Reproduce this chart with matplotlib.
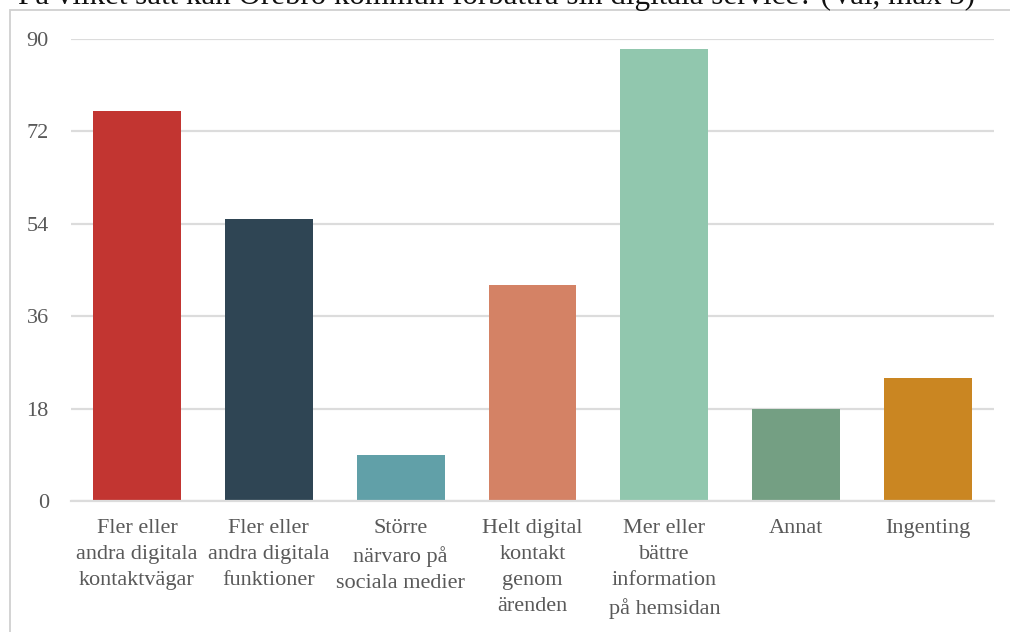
import matplotlib
matplotlib.use("Agg")
import matplotlib.pyplot as plt
from matplotlib.patches import Rectangle

title = "På vilket sätt kan Örebro kommun förbättra sin digitala service? (Val, max 3)"
categories = [
    "Fler eller\nandra digitala\nkontaktvägar",
    "Fler eller\nandra digitala\nfunktioner",
    "Större\nnärvaro på\nsociala medier",
    "Helt digital\nkontakt\ngenom\närenden",
    "Mer eller\nbättre\ninformation\npå hemsidan",
    "Annat",
    "Ingenting",
]
values = [76, 55, 9, 42, 88, 18, 24]
colors = ["#c23531", "#2f4554", "#61a0a8", "#d48265", "#91c7ae", "#749f83", "#ca8622"]
yticks = [0, 18, 36, 54, 72, 90]

W, H = 1010, 632
plt.rcParams["font.family"] = ["Liberation Serif", "DejaVu Serif"]
fig = plt.figure(figsize=(W / 100, H / 100), dpi=100)

# outer frame (left and top edges visible)
fig.patches.append(Rectangle((10 / W, -0.1), 1.2, 1 - 10 / H + 0.1, transform=fig.transFigure,
                             fill=False, edgecolor="#d0d0d0", linewidth=1.3))

fig.text(497 / W, 1 - 4 / H, title, ha="center", va="baseline", fontsize=22.3, color="#111111")

ax = fig.add_axes([71 / W, 1 - 501 / H, (994 - 71) / W, (501 - 39) / H])
x = range(len(categories))
ax.bar(x, values, width=0.667, color=colors, zorder=3)
ax.set_xlim(-0.5, len(categories) - 0.5)
ax.set_ylim(0, 90)
ax.set_yticks(yticks)
ax.set_xticks(list(x))
ax.set_xticklabels(categories, fontsize=16, color="#595959", linespacing=1.5)
ax.tick_params(axis="y", labelsize=16, labelcolor="#595959", length=0, pad=16)
ax.tick_params(axis="x", length=0, pad=13)
ax.grid(axis="y", color="#dcdcdc", linewidth=1.6, zorder=0)
for s in ["top", "right", "left"]:
    ax.spines[s].set_visible(False)
ax.spines["bottom"].set_color("#dcdcdc")
ax.spines["bottom"].set_linewidth(1.6)
ax.spines["bottom"].set_zorder(4)

fig.savefig("out.png", dpi=100)
